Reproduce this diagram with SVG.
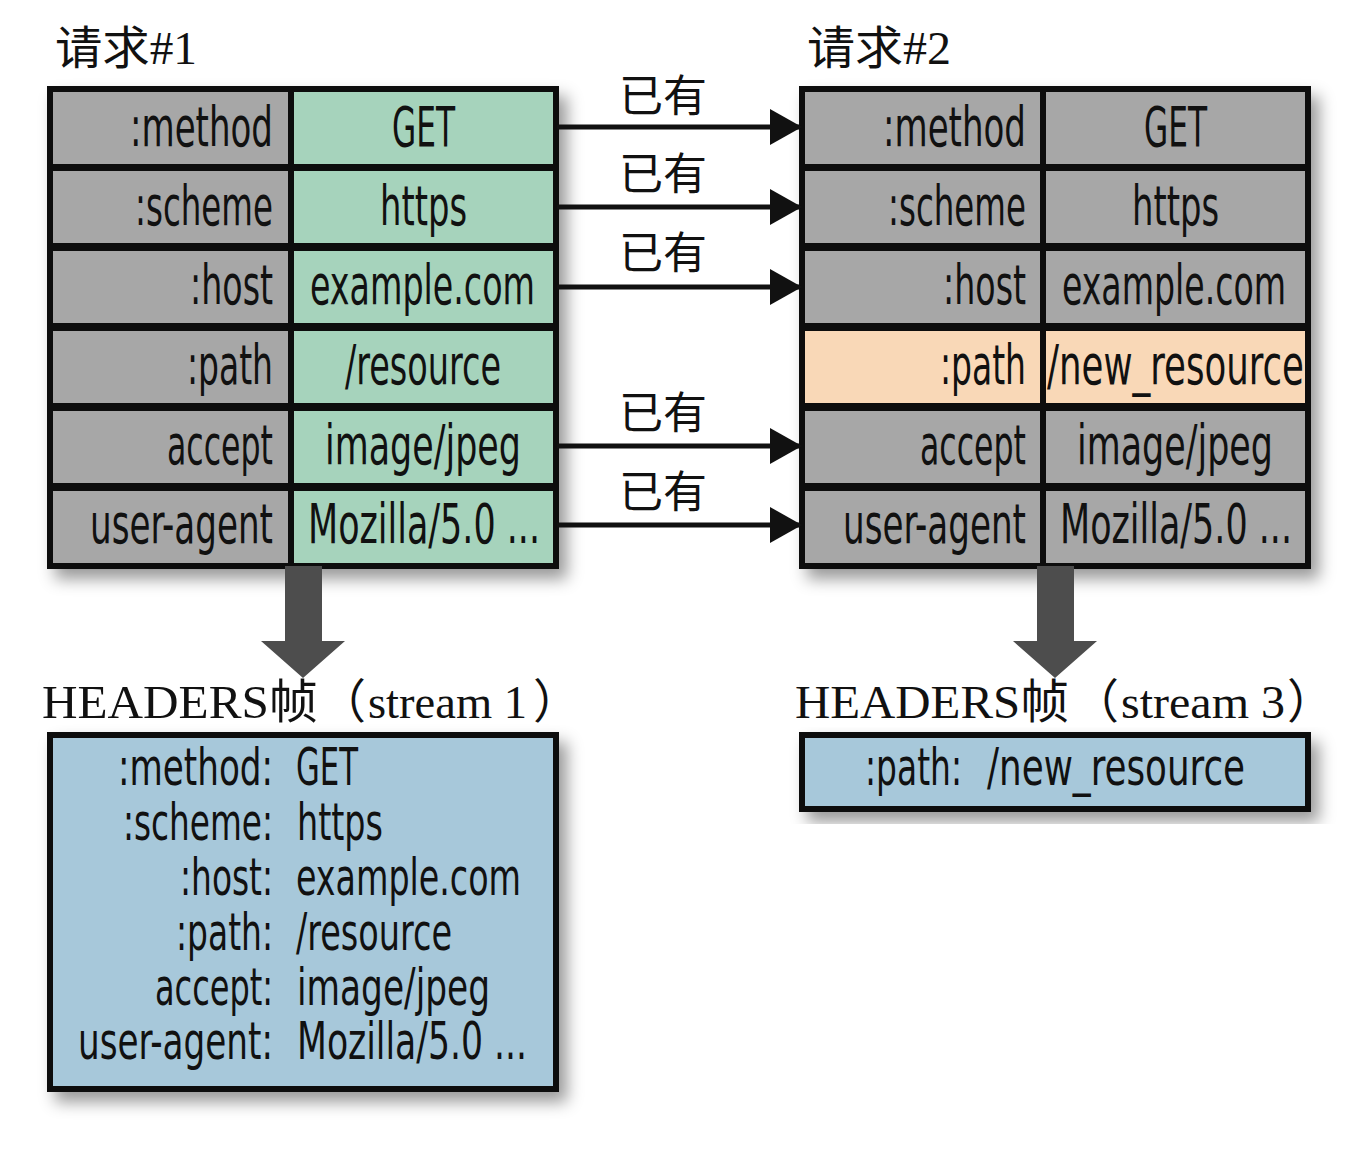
<svg xmlns="http://www.w3.org/2000/svg" width="1368" height="1164" viewBox="0 0 1368 1164">
<defs>
<style>
.c{font-family:"Liberation Sans Narrow","DejaVu Sans Condensed","Liberation Sans",sans-serif;font-size:56px;fill:#111}
.b{font-family:"Liberation Sans Narrow","DejaVu Sans Condensed","Liberation Sans",sans-serif;font-size:52px;fill:#111}
.s{font-family:"Liberation Serif","Noto Sans CJK SC",serif;font-size:47px;fill:#111}
.t{font-family:"Liberation Serif","Noto Sans CJK SC",serif;font-size:46px;fill:#111}
.k{font-family:"Noto Sans CJK SC",sans-serif;font-size:44px;fill:#111;text-anchor:middle}
.g{fill:#a7a7a7;stroke:#111;stroke-width:6}
.n{fill:#a6d3bc;stroke:#111;stroke-width:6}
.p{fill:#f9d8b7;stroke:#111;stroke-width:6}
.bl{fill:#a7c8da;stroke:#111;stroke-width:6}
.ln{stroke:#111;stroke-width:5;fill:none}
</style>
<filter id="sh" x="-10%" y="-10%" width="125%" height="130%">
<feDropShadow dx="8" dy="10" stdDeviation="8" flood-color="#000" flood-opacity="0.4"/>
</filter>
<marker id="ah" markerWidth="32" markerHeight="36" refX="30" refY="18" orient="auto" markerUnits="userSpaceOnUse">
<path d="M0,0 L32,18 L0,36 Z" fill="#111"/>
</marker>
</defs>
<rect width="1368" height="1164" fill="#fff"/>

<text class="t" x="55" y="64" textLength="142" lengthAdjust="spacingAndGlyphs">请求#1</text>
<text class="t" x="807" y="64" textLength="144" lengthAdjust="spacingAndGlyphs">请求#2</text>

<g id="request1" filter="url(#sh)">
<rect class="g" x="50" y="89" width="241" height="78"/>
<rect class="n" x="291" y="89" width="265" height="78"/>
<rect class="g" x="50" y="168" width="241" height="78"/>
<rect class="n" x="291" y="168" width="265" height="78"/>
<rect class="g" x="50" y="248" width="241" height="78"/>
<rect class="n" x="291" y="248" width="265" height="78"/>
<rect class="g" x="50" y="328" width="241" height="78"/>
<rect class="n" x="291" y="328" width="265" height="78"/>
<rect class="g" x="50" y="408" width="241" height="78"/>
<rect class="n" x="291" y="408" width="265" height="78"/>
<rect class="g" x="50" y="488" width="241" height="78"/>
<rect class="n" x="291" y="488" width="265" height="78"/>
</g>
<g id="request1-text">
<text class="c" x="130" y="146" textLength="143" lengthAdjust="spacingAndGlyphs">:method</text>
<text class="c" x="135" y="225" textLength="138" lengthAdjust="spacingAndGlyphs">:scheme</text>
<text class="c" x="190" y="304" textLength="83" lengthAdjust="spacingAndGlyphs">:host</text>
<text class="c" x="187" y="384" textLength="86" lengthAdjust="spacingAndGlyphs">:path</text>
<text class="c" x="167" y="464" textLength="106" lengthAdjust="spacingAndGlyphs">accept</text>
<text class="c" x="90" y="543" textLength="183" lengthAdjust="spacingAndGlyphs">user-agent</text>
<text class="c" x="392" y="146" textLength="63" lengthAdjust="spacingAndGlyphs">GET</text>
<text class="c" x="380" y="225" textLength="87" lengthAdjust="spacingAndGlyphs">https</text>
<text class="c" x="310" y="304" textLength="225" lengthAdjust="spacingAndGlyphs">example.com</text>
<text class="c" x="345" y="384" textLength="156" lengthAdjust="spacingAndGlyphs">/resource</text>
<text class="c" x="325" y="464" textLength="196" lengthAdjust="spacingAndGlyphs">image/jpeg</text>
<text class="c" x="308" y="543" textLength="232" lengthAdjust="spacingAndGlyphs">Mozilla/5.0 ...</text>
</g>

<g id="request2" filter="url(#sh)">
<rect class="g" x="802" y="89" width="241" height="78"/>
<rect class="g" x="1043" y="89" width="265" height="78"/>
<rect class="g" x="802" y="168" width="241" height="78"/>
<rect class="g" x="1043" y="168" width="265" height="78"/>
<rect class="g" x="802" y="248" width="241" height="78"/>
<rect class="g" x="1043" y="248" width="265" height="78"/>
<rect class="p" x="802" y="328" width="241" height="78"/>
<rect class="p" x="1043" y="328" width="265" height="78"/>
<rect class="g" x="802" y="408" width="241" height="78"/>
<rect class="g" x="1043" y="408" width="265" height="78"/>
<rect class="g" x="802" y="488" width="241" height="78"/>
<rect class="g" x="1043" y="488" width="265" height="78"/>
</g>
<g id="request2-text">
<text class="c" x="883" y="146" textLength="143" lengthAdjust="spacingAndGlyphs">:method</text>
<text class="c" x="888" y="225" textLength="138" lengthAdjust="spacingAndGlyphs">:scheme</text>
<text class="c" x="943" y="304" textLength="83" lengthAdjust="spacingAndGlyphs">:host</text>
<text class="c" x="940" y="384" textLength="86" lengthAdjust="spacingAndGlyphs">:path</text>
<text class="c" x="920" y="464" textLength="106" lengthAdjust="spacingAndGlyphs">accept</text>
<text class="c" x="843" y="543" textLength="183" lengthAdjust="spacingAndGlyphs">user-agent</text>
<text class="c" x="1144" y="146" textLength="63" lengthAdjust="spacingAndGlyphs">GET</text>
<text class="c" x="1132" y="225" textLength="87" lengthAdjust="spacingAndGlyphs">https</text>
<text class="c" x="1062" y="304" textLength="224" lengthAdjust="spacingAndGlyphs">example.com</text>
<text class="c" x="1047" y="384" textLength="257" lengthAdjust="spacingAndGlyphs">/new_resource</text>
<text class="c" x="1077" y="464" textLength="196" lengthAdjust="spacingAndGlyphs">image/jpeg</text>
<text class="c" x="1060" y="543" textLength="232" lengthAdjust="spacingAndGlyphs">Mozilla/5.0 ...</text>
</g>

<g id="connectors">
<line class="ln" x1="557" y1="127" x2="800" y2="127" marker-end="url(#ah)"/>
<line class="ln" x1="557" y1="207" x2="800" y2="207" marker-end="url(#ah)"/>
<line class="ln" x1="557" y1="287" x2="800" y2="287" marker-end="url(#ah)"/>
<line class="ln" x1="557" y1="446" x2="800" y2="446" marker-end="url(#ah)"/>
<line class="ln" x1="557" y1="525" x2="800" y2="525" marker-end="url(#ah)"/>
<text class="k" x="663" y="112">已有</text>
<text class="k" x="663" y="190">已有</text>
<text class="k" x="663" y="269">已有</text>
<text class="k" x="663" y="429">已有</text>
<text class="k" x="663" y="508">已有</text>
<path d="M285,566 L322,566 L322,641 L345,641 L303,678 L261,641 L285,641 Z" fill="#4d4d4d"/>
<path d="M1037,566 L1074,566 L1074,641 L1097,641 L1055,678 L1013,641 L1037,641 Z" fill="#4d4d4d"/>
</g>

<g id="label1">
<text class="s" x="42" y="718" textLength="276" lengthAdjust="spacingAndGlyphs">HEADERS帧</text>
<text class="s" x="319" y="718">（</text>
<text class="s" x="368" y="718" textLength="159" lengthAdjust="spacingAndGlyphs">stream 1</text>
<text class="s" x="533" y="718">）</text>
</g>
<g id="label3">
<text class="s" x="795" y="718" textLength="274" lengthAdjust="spacingAndGlyphs">HEADERS帧</text>
<text class="s" x="1072" y="718">（</text>
<text class="s" x="1121" y="718" textLength="164" lengthAdjust="spacingAndGlyphs">stream 3</text>
<text class="s" x="1287" y="718">）</text>
</g>

<g id="headers1">
<rect class="bl" x="50" y="735" width="506" height="354" filter="url(#sh)"/>
<text class="b" x="118" y="785" textLength="155" lengthAdjust="spacingAndGlyphs">:method:</text>
<text class="b" x="123" y="840" textLength="150" lengthAdjust="spacingAndGlyphs">:scheme:</text>
<text class="b" x="180" y="895" textLength="93" lengthAdjust="spacingAndGlyphs">:host:</text>
<text class="b" x="176" y="950" textLength="97" lengthAdjust="spacingAndGlyphs">:path:</text>
<text class="b" x="155" y="1005" textLength="118" lengthAdjust="spacingAndGlyphs">accept:</text>
<text class="b" x="78" y="1059" textLength="195" lengthAdjust="spacingAndGlyphs">user-agent:</text>
<text class="b" x="296" y="785" textLength="62" lengthAdjust="spacingAndGlyphs">GET</text>
<text class="b" x="297" y="840" textLength="86" lengthAdjust="spacingAndGlyphs">https</text>
<text class="b" x="296" y="895" textLength="225" lengthAdjust="spacingAndGlyphs">example.com</text>
<text class="b" x="296" y="950" textLength="156" lengthAdjust="spacingAndGlyphs">/resource</text>
<text class="b" x="297" y="1005" textLength="193" lengthAdjust="spacingAndGlyphs">image/jpeg</text>
<text class="b" x="297" y="1059" textLength="230" lengthAdjust="spacingAndGlyphs">Mozilla/5.0 ...</text>
</g>

<g id="headers3">
<rect class="bl" x="802" y="735" width="506" height="74" filter="url(#sh)"/>
<text class="b" x="865" y="785" textLength="97" lengthAdjust="spacingAndGlyphs">:path:</text>
<text class="b" x="987" y="785" textLength="258" lengthAdjust="spacingAndGlyphs">/new_resource</text>
</g>
</svg>
